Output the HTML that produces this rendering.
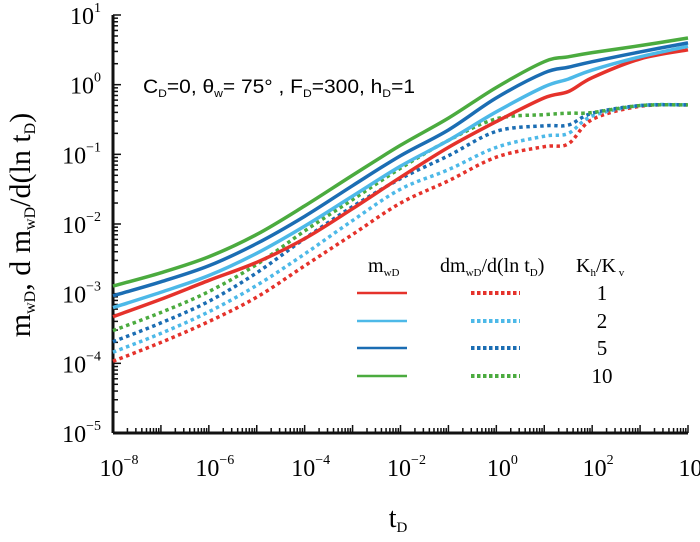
<!DOCTYPE html>
<html><head><meta charset="utf-8"><style>
body{margin:0;background:#fff}
svg text{font-family:"Liberation Serif",serif}
</style></head><body>
<svg id="c" width="700" height="537" viewBox="0 0 700 537" xmlns="http://www.w3.org/2000/svg">
<g id="axes"></g><g id="series"></g>
<text x="143" y="93" font-size="19" textLength="272" lengthAdjust="spacingAndGlyphs" style="font-family:'Liberation Sans',sans-serif">C<tspan font-size="11" dy="4">D</tspan><tspan dy="-4">=0,  θ</tspan><tspan font-size="11" dy="4">w</tspan><tspan dy="-4">= 75°  , F</tspan><tspan font-size="11" dy="4">D</tspan><tspan dy="-4">=300, h</tspan><tspan font-size="11" dy="4">D</tspan><tspan dy="-4">=1</tspan></text>
<text x="398" y="527" font-size="28" text-anchor="middle">t<tspan font-size="15" dy="5">D</tspan></text>
<text transform="translate(30,225) rotate(-90)" font-size="30" text-anchor="middle">m<tspan font-size="16" dy="5">wD</tspan><tspan dy="-5">, d m</tspan><tspan font-size="16" dy="5">wD</tspan><tspan dy="-5">/d(ln t</tspan><tspan font-size="16" dy="5">D</tspan><tspan dy="-5">)</tspan></text>
<g id="legend">
<text x="368" y="272" font-size="20">m<tspan font-size="11" dy="4">wD</tspan></text>
<text x="440" y="272" font-size="20">dm<tspan font-size="11" dy="4">wD</tspan><tspan dy="-4">/d(ln  t</tspan><tspan font-size="11" dy="4">D</tspan><tspan dy="-4">)</tspan></text>
<text x="576" y="272" font-size="20">K<tspan font-size="11" dy="4">h</tspan><tspan dy="-4">/K</tspan><tspan font-size="11" dy="4"> v</tspan></text>
</g>
</svg>
<script>
const xLog=[-8,-7,-6,-5,-4,-3,-2,-1,0,1,1.5,2,3,4];
const greenM=[-2.89,-2.7,-2.47,-2.15,-1.74,-1.3,-0.87,-0.48,-0.04,0.33,0.4,0.46,0.56,0.67];
const blueM=[-3.03,-2.83,-2.6,-2.28,-1.89,-1.45,-1.02,-0.65,-0.19,0.17,0.25,0.33,0.47,0.6];
const lblueM=[-3.2,-2.98,-2.74,-2.42,-2.03,-1.6,-1.17,-0.8,-0.39,-0.03,0.08,0.21,0.4,0.55];
const redM=[-3.33,-3.08,-2.81,-2.55,-2.21,-1.78,-1.33,-0.9,-0.53,-0.19,-0.1,0.1,0.37,0.5];
const greenD=[-3.53,-3.27,-2.97,-2.58,-2.1,-1.65,-1.2,-0.8,-0.49,-0.43,-0.41,-0.4,-0.3,-0.29];
const blueD=[-3.69,-3.42,-3.11,-2.7,-2.21,-1.75,-1.35,-1.02,-0.67,-0.59,-0.58,-0.41,-0.3,-0.29];
const lblueD=[-3.84,-3.57,-3.26,-2.88,-2.43,-1.95,-1.5,-1.22,-0.9,-0.74,-0.7,-0.45,-0.3,-0.29];
const redD=[-3.97,-3.7,-3.4,-3.05,-2.6,-2.15,-1.7,-1.38,-1.04,-0.89,-0.85,-0.5,-0.31,-0.29];
const xTicks=[-8,-6,-4,-2,0,2,4];
const yTicks=[-5,-4,-3,-2,-1,0,1];
const ratioLabels=["1","2","5","10"];
const NS="http://www.w3.org/2000/svg";
const X0=113,X1=688,Y0=433,Y1=15;
const sx=v=>X0+(v+8)/12*(X1-X0);
const sy=v=>Y0-(v+5)/6*(Y0-Y1);
function mk(t,a,p){const e=document.createElementNS(NS,t);for(const k in a)e.setAttribute(k,a[k]);p.appendChild(e);return e;}
const ax=document.getElementById('axes');
let l=mk('line',{x1:X0,y1:Y1,x2:X0,y2:Y0,stroke:'#111','stroke-width':3},ax);

l=mk('line',{x1:X0,y1:Y0,x2:X1,y2:Y0,stroke:'#111','stroke-width':3},ax);

for(let d=-5;d<=1;d++){for(let m=1;m<=9;m++){if(d==1&&m>1)break;const v=d+Math.log10(m);const y=sy(v);
 const t=mk('line',{x1:X0,y1:y,x2:X0+(m==1?8:5),y2:y,stroke:'#111','stroke-width':1.5},ax);
 }}
for(let d=-8;d<=4;d++){for(let m=1;m<=9;m++){if(d==4&&m>1)break;const v=d+Math.log10(m);const x=sx(v);
 const t=mk('line',{x1:x,y1:Y0,x2:x,y2:Y0-(m==1?8:5),stroke:'#111','stroke-width':1.5},ax);
 }}
yTicks.forEach(v=>{const t=mk('text',{x:X0-12,y:sy(v)+9,'font-size':24,'text-anchor':'end'},ax);
 
 t.innerHTML='10<tspan font-size="14" dy="-12">'+(v<0?'\u2212'+(-v):v)+'</tspan>';});
xTicks.forEach(v=>{const t=mk('text',{x:sx(v)+6,y:476,'font-size':24,'text-anchor':'middle'},ax);
 
 t.innerHTML='10<tspan font-size="14" dy="-12">'+(v<0?'\u2212'+(-v):v)+'</tspan>';});
function pathD(ys){const p=xLog.map((x,i)=>[sx(x),sy(ys[i])]);let d='M'+p[0][0]+','+p[0][1];
 for(let i=0;i<p.length-1;i++){const a=p[Math.max(0,i-1)],b=p[i],c=p[i+1],e=p[Math.min(p.length-1,i+2)];
 d+=' C'+(b[0]+(c[0]-a[0])/6)+','+(b[1]+(c[1]-a[1])/6)+' '+(c[0]-(e[0]-b[0])/6)+','+(c[1]-(e[1]-b[1])/6)+' '+c[0]+','+c[1];}return d;}
const cols=['#e5322b','#4db9e8','#1b6db3','#4bab3f'];
const names=['kh-kv-1','kh-kv-2','kh-kv-5','kh-kv-10'];
const M=[redM,lblueM,blueM,greenM],D=[redD,lblueD,blueD,greenD];
const sg=document.getElementById('series'),lg=document.getElementById('legend');
for(let i=0;i<4;i++){
 let p=mk('path',{d:pathD(D[i]),fill:'none',stroke:cols[i],'stroke-width':3.5,'stroke-dasharray':'3.5 3.5'},sg);
 
}
for(let i=0;i<4;i++){
 let p=mk('path',{d:pathD(M[i]),fill:'none',stroke:cols[i],'stroke-width':3.5},sg);
 
}
const ly=[293,321,348,376];
for(let i=0;i<4;i++){
 let a=mk('line',{x1:357,y1:ly[i],x2:407,y2:ly[i],stroke:cols[i],'stroke-width':2.5},lg);
 
 a=mk('line',{x1:471,y1:ly[i],x2:520,y2:ly[i],stroke:cols[i],'stroke-width':4,'stroke-dasharray':'3.5 2.5'},lg);
 
 const t=mk('text',{x:602,y:ly[i]+7,'font-size':21,'text-anchor':'middle'},lg);
 t.textContent=ratioLabels[i];
 
}
</script>
</body></html>
